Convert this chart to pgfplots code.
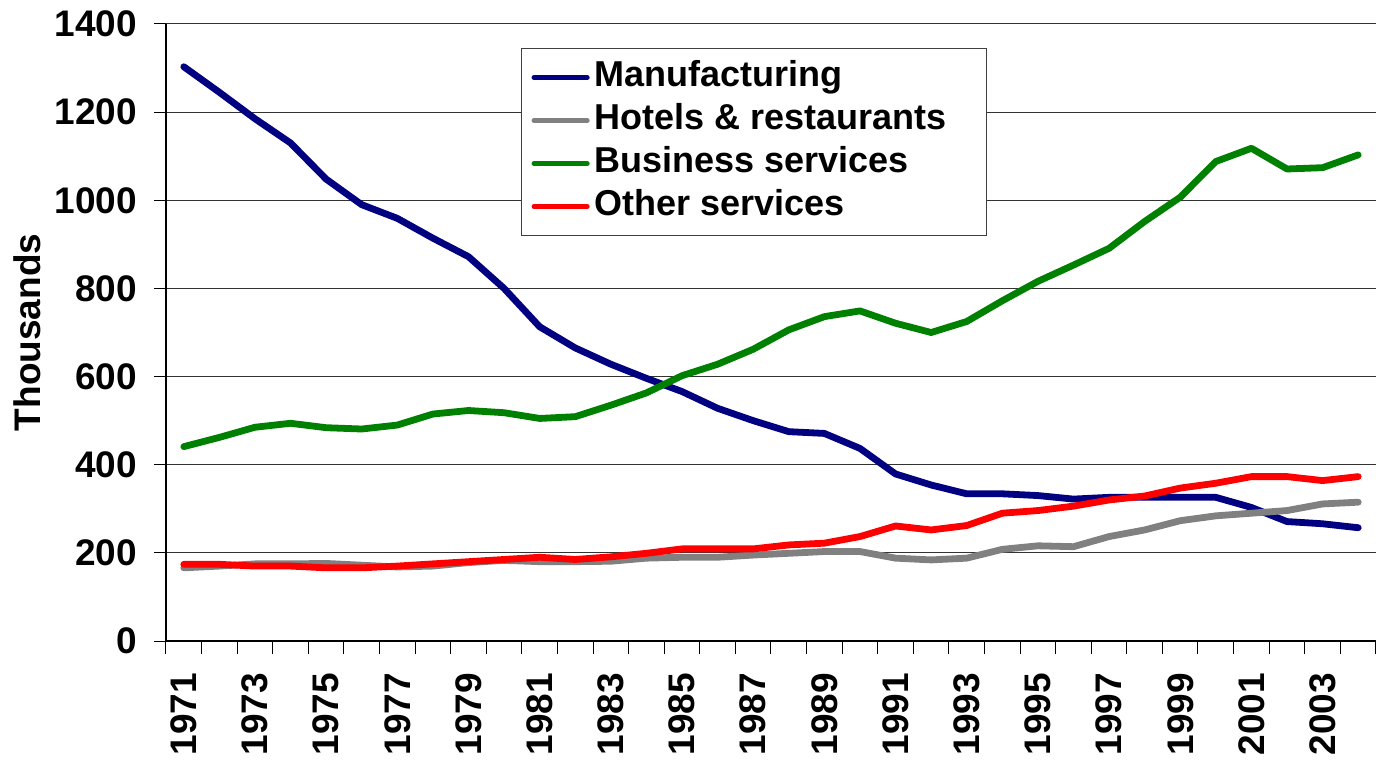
\documentclass[border=0pt]{standalone}
\usepackage{pgfplots}
\pgfplotsset{compat=1.18}
\usepackage{pgfplotstable}
\usepackage{fontspec}
\setmainfont{Liberation Sans}
\definecolor{cNavy}{RGB}{0,0,128}
\definecolor{cGrey}{RGB}{128,128,128}
\definecolor{cGreen}{RGB}{0,128,0}
\definecolor{cRed}{RGB}{255,0,0}
\pgfplotstableread{
year mfg hotels business other
1971 1303 166 441 174
1972 1245 170 462 174
1973 1185 175 485 170
1974 1130 175 494 170
1975 1048 176 484 166
1976 990 172 481 166
1977 959 168 490 170
1978 914 170 515 175
1979 872 178 523 180
1980 800 183 518 185
1981 713 180 505 190
1982 665 180 509 185
1983 628 181 535 191
1984 596 188 563 199
1985 566 190 602 209
1986 528 190 628 209
1987 500 195 662 209
1988 475 199 706 218
1989 471 203 736 222
1990 437 203 749 237
1991 379 188 721 261
1992 354 184 700 252
1993 334 188 725 262
1994 334 208 772 290
1995 330 216 816 296
1996 322 214 853 306
1997 326 237 891 320
1998 326 252 952 329
1999 326 273 1007 347
2000 326 284 1088 358
2001 303 290 1118 373
2002 271 296 1071 373
2003 266 311 1074 364
2004 257 315 1103 373
}\datatable
\begin{document}
\begin{tikzpicture}
\path (-83pt,-59pt) rectangle (606.5pt,320.5pt);
\begin{axis}[
  at={(0,0)}, anchor=south west,
  scale only axis,
  width=605pt, height=308.5pt,
  xmin=1970.5, xmax=2004.5,
  ymin=0, ymax=1400,
  ytick={0,200,...,1400},
  xtick={1971,1973,...,2003},
  minor xtick={1970.5,1971.5,...,2004.5},
  axis x line*=bottom,
  axis y line*=left,
  axis line style={black, line width=0.6pt, -},
  tick align=outside,
  tick pos=left,
  major tick length=6pt,
  minor tick length=6.5pt,
  major x tick style={draw=none},
  minor x tick style={black, line width=0.5pt},
  major y tick style={black, line width=0.5pt},
  ymajorgrids,
  grid style={black!80, line width=0.5pt},
  /pgf/number format/1000 sep={},
  /pgf/number format/assume math mode=true,
  ticklabel style={font=\fontsize{18.5}{20}\selectfont\bfseries},
  xticklabel style={rotate=90, anchor=east},
  xticklabel shift=6.5pt,
  yticklabel shift=5pt,
  ylabel={Thousands},
  ylabel shift=0pt,
  ylabel style={font=\fontsize{18.5}{20}\selectfont\bfseries},
  legend cell align=left,
  legend style={at={(rel axis cs:0.2934,0.961)}, anchor=north west,
    draw=black!75, line width=0.5pt,
    font=\fontsize{18}{21.5}\selectfont\bfseries,
    inner xsep=5pt, inner ysep=3.75pt, row sep=0pt,
    nodes={inner sep=2.25pt, text height=13pt, text depth=4pt}},
  legend image code/.code={\draw[#1, line width=2.6pt, line cap=round] (0pt,0pt) -- (26.5pt,0pt);},
  every axis plot/.append style={line width=3.4pt, line join=round, line cap=round},
]
\addplot[cNavy] table[x=year, y=mfg] {\datatable};
\addlegendentry{Manufacturing}
\addplot[cGrey] table[x=year, y=hotels] {\datatable};
\addlegendentry{Hotels \& restaurants\hspace*{13pt}}
\addplot[cGreen] table[x=year, y=business] {\datatable};
\addlegendentry{Business services}
\addplot[cRed] table[x=year, y=other] {\datatable};
\addlegendentry{Other services}
\end{axis}
\end{tikzpicture}
\end{document}
